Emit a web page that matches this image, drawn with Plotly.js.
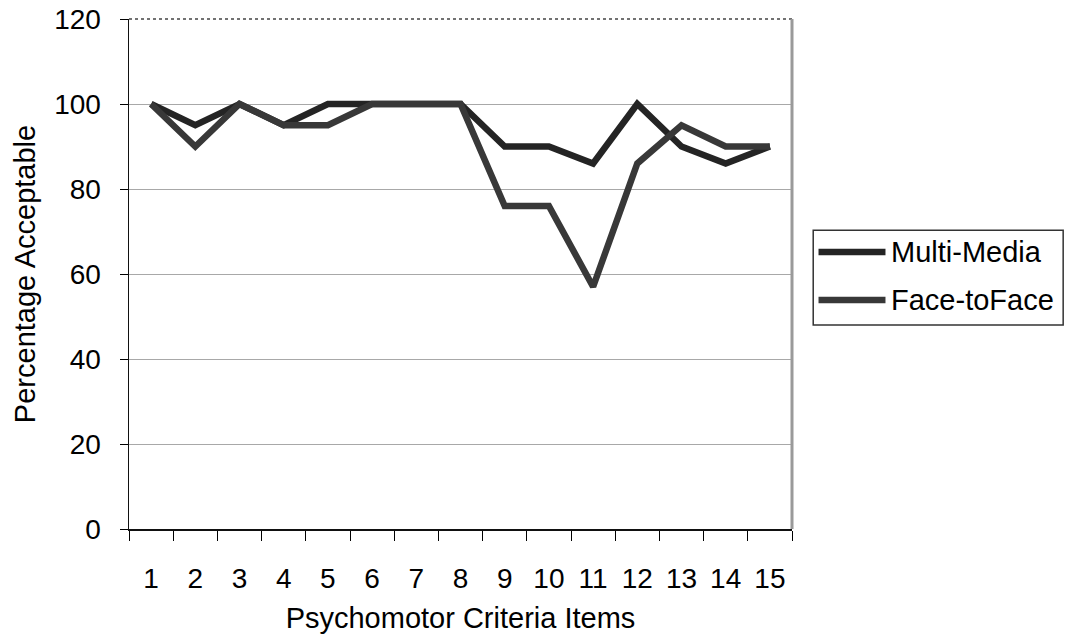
<!DOCTYPE html>
<html>
<head>
<meta charset="utf-8">
<script src="https://cdn.plot.ly/plotly-3.0.1.min.js"></script>
<style>
  html, body { margin: 0; padding: 0; background: #fff; }
  #chart { width: 1065px; height: 642px; }
</style>
</head>
<body>
<div id="chart"></div>
<script>
// Psychomotor criteria items and percentage rated acceptable per teaching method
const items = ["1", "2", "3", "4", "5", "6", "7", "8", "9", "10", "11", "12", "13", "14", "15"];
const multiMedia = [100, 95, 100, 95, 100, 100, 100, 100, 90, 90, 86, 100, 90, 86, 90];
const faceToFace = [100, 90, 100, 95, 95, 100, 100, 100, 76, 76, 57, 86, 95, 90, 90];
const seriesNames = ["Multi-Media", "Face-toFace"];
const yTicks = [0, 20, 40, 60, 80, 100, 120];

const font = "Liberation Sans, Arial, Helvetica, sans-serif";
const colors = ["#242424", "#383838"];
const lineWidth = 6.5;

const traces = [
  {
    x: items, y: multiMedia, name: seriesNames[0], type: "scatter", mode: "lines",
    line: { color: colors[0], width: lineWidth }
  },
  {
    x: items, y: faceToFace, name: seriesNames[1], type: "scatter", mode: "lines",
    line: { color: colors[1], width: lineWidth }
  }
];

// Legend box drawn in paper coordinates to the right of the plot area
const legendBox = { x0: 1.032, x1: 1.409, y0: 0.400, y1: 0.586 };
const legendRows = [0.543, 0.449];
const legendShapes = [
  { type: "rect", xref: "paper", yref: "paper",
    x0: legendBox.x0, x1: legendBox.x1, y0: legendBox.y0, y1: legendBox.y1,
    line: { color: "#333", width: 1.5 }, fillcolor: "rgba(0,0,0,0)" }
].concat(legendRows.map((yy, i) => ({
  type: "line", xref: "paper", yref: "paper", x0: 1.040, x1: 1.141, y0: yy, y1: yy,
  line: { color: colors[i], width: lineWidth }
})));
const legendLabels = legendRows.map((yy, i) => ({
  xref: "paper", yref: "paper", x: 1.147, y: yy, xanchor: "left", yanchor: "middle",
  text: seriesNames[i], showarrow: false, font: { family: font, size: 29, color: "#000" }
}));

const layout = {
  width: 1065, height: 642,
  margin: { l: 129, r: 273, t: 19, b: 113 },
  paper_bgcolor: "#fff", plot_bgcolor: "#fff",
  font: { family: font, size: 26, color: "#000" },
  showlegend: false,
  xaxis: {
    type: "category",
    range: [-0.5, 14.5],
    tickson: "boundaries",
    ticks: "outside", ticklen: 10, tickwidth: 1, tickcolor: "#000",
    ticklabelstandoff: 24,
    showgrid: false, zeroline: false,
    showline: true, linecolor: "#111", linewidth: 1.5,
    tickfont: { family: font, size: 28 },
    title: { text: "Psychomotor Criteria Items", font: { family: font, size: 29 }, standoff: 14 }
  },
  yaxis: {
    range: [0, 120], tickvals: yTicks, ticktext: yTicks.map(String),
    ticks: "outside", ticklen: 8, tickwidth: 1, tickcolor: "#000",
    ticklabelstandoff: 13,
    showgrid: true, gridcolor: "#a8a8a8", gridwidth: 1,
    zeroline: false,
    showline: true, linecolor: "#111", linewidth: 1.5,
    tickfont: { family: font, size: 28 },
    title: { text: "Percentage Acceptable", font: { family: font, size: 29 }, standoff: 10 }
  },
  shapes: [
    { type: "line", xref: "paper", yref: "paper", x0: 0, x1: 1, y0: 1, y1: 1,
      line: { color: "#444", width: 1.5, dash: "dot" } },
    { type: "line", xref: "paper", yref: "paper", x0: 1, x1: 1, y0: 0, y1: 1,
      line: { color: "#9a9a9a", width: 3 } }
  ].concat(legendShapes),
  annotations: legendLabels
};

Plotly.newPlot("chart", traces, layout, { displayModeBar: false, staticPlot: true });
</script>
</body>
</html>
